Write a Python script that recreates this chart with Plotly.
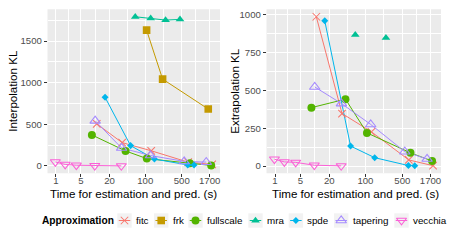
import numpy as np
import plotly.graph_objects as go

# ---------------- data ----------------
methods = ["fitc", "frk", "fullscale", "mra", "spde", "tapering", "vecchia"]

time_fitc = [11, 35.6, 130, 662, 1900]
time_frk = [106, 215, 1600]
time_fullscale = [8.7, 41.5, 107, 712, 1820]
time_mra = [64, 127, 245, 462]
time_spde = [16.3, 52, 150, 650, 858]
time_tapering = [10.2, 34.7, 126, 556, 1465]
time_vecchia = [0.95, 2.0, 3.9, 10, 34.3]

interp_fitc = [505, 280, 182, 45, 18]
interp_frk = [1631, 1043, 683]
interp_fullscale = [372, 180, 88, 32, 5]
interp_mra = [1792, 1772, 1752, 1760]
interp_spde = [824, 244, 82, 12, 10]
interp_tapering = [542, 215, 125, 54, 46]
interp_vecchia = [48, 18, 8, 3, 1]

extrap_fitc = [987, 347, 226, 40, 2]
extrap_frk = [None, None, None]
extrap_fullscale = [386, 442, 219, 87, 33]
extrap_mra = [867, None, 847, None]
extrap_spde = [960, 132, 55, 3, 2]
extrap_tapering = [523, 413, 275, 95, 46]
extrap_vecchia = [45, 27, 24, 5, 1]

x_breaks = [1, 5, 20, 100, 500, 1700]
x_break_labels = ["1", "5", "20", "100", "500", "1700"]
y_breaks_left = [0, 500, 1000, 1500]
y_breaks_right = [0, 250, 500, 750, 1000]

times = {"fitc": time_fitc, "frk": time_frk, "fullscale": time_fullscale, "mra": time_mra,
         "spde": time_spde, "tapering": time_tapering, "vecchia": time_vecchia}
interp = {"fitc": interp_fitc, "frk": interp_frk, "fullscale": interp_fullscale, "mra": interp_mra,
          "spde": interp_spde, "tapering": interp_tapering, "vecchia": interp_vecchia}
extrap = {"fitc": extrap_fitc, "frk": extrap_frk, "fullscale": extrap_fullscale, "mra": extrap_mra,
          "spde": extrap_spde, "tapering": extrap_tapering, "vecchia": extrap_vecchia}

# ---------------- styles ----------------
colors = {"fitc": "#F8766D", "frk": "#C49A00", "fullscale": "#53B400", "mra": "#00C094",
          "spde": "#00B6EB", "tapering": "#A58AFF", "vecchia": "#FB61D7"}
symbols = {"fitc": "x-thin-open", "frk": "square", "fullscale": "circle", "mra": "triangle-up",
           "spde": "diamond", "tapering": "triangle-up-open", "vecchia": "triangle-down-open"}
sizes = {"fitc": 7.5, "frk": 7.6, "fullscale": 8, "mra": 7.6, "spde": 5.4,
         "tapering": 9.2, "vecchia": 8.8}

W, H = 450, 241
FONT = "Liberation Sans, Arial, sans-serif"
LW = 1.0

def marker(m):
    d = dict(symbol=symbols[m], size=sizes[m], color=colors[m])
    if "open" in symbols[m]:
        d["line"] = dict(width=1.05, color=colors[m])
    else:
        d["line"] = dict(width=0)
    return d

fig = go.Figure()

panels = [("x", "y", interp), ("x2", "y2", extrap)]
# lines first, then points (ggplot layering)
for xa, ya, vals in panels:
    for m in methods:
        fig.add_trace(go.Scatter(x=np.array(times[m]) + 1, y=vals[m], mode="lines",
                                 line=dict(color=colors[m], width=LW), connectgaps=False,
                                 xaxis=xa, yaxis=ya, showlegend=False, hoverinfo="skip"))
for xa, ya, vals in panels:
    for m in methods:
        fig.add_trace(go.Scatter(x=np.array(times[m]) + 1, y=vals[m], mode="markers",
                                 marker=marker(m), xaxis=xa, yaxis=ya, showlegend=False,
                                 hoverinfo="skip"))

# ---------------- axes ----------------
def px_x(p):
    return p / W

def px_y(p):
    return 1 - p / H

ydom = [px_y(173.3), px_y(9.3)]
left_dom = [px_x(47.5), px_x(220)]
right_dom = [px_x(266.5), px_x(441)]

def xrange(all_t):
    lo = np.log10(min(all_t) + 1)
    hi = np.log10(max(all_t) + 1)
    d = hi - lo
    return [lo - 0.05 * d, hi + 0.05 * d]

def yrange(vals):
    flat = [v for m in methods for v in vals[m] if v is not None]
    lo, hi = min(flat), max(flat)
    d = hi - lo
    return [lo - 0.05 * d, hi + 0.05 * d]

all_t = [t for m in methods for t in times[m]]
tv = [b + 1 for b in x_breaks]
minor_x = [float(np.sqrt(tv[i] * tv[i + 1])) for i in range(len(tv) - 1)]

tickfont = dict(family=FONT, size=9.6, color="#4D4D4D")

def xaxis_cfg(dom, anchor):
    return dict(domain=dom, anchor=anchor, type="log", range=xrange(all_t),
                tickmode="array", tickvals=tv, ticktext=x_break_labels,
                showgrid=True, gridcolor="white", gridwidth=1.07,
                minor=dict(tickvals=minor_x, showgrid=True, gridcolor="white", gridwidth=0.55, ticks=""),
                ticks="outside", ticklen=2.7, tickwidth=1.0, tickcolor="#333333",
                tickfont=tickfont, ticklabelstandoff=-5, showline=False, zeroline=False,
                automargin=False, fixedrange=True)

def yaxis_cfg(dom, anchor, rng, breaks):
    minor = [(breaks[i] + breaks[i + 1]) / 2 for i in range(len(breaks) - 1)]
    step = breaks[1] - breaks[0]
    minor.append(breaks[-1] + step / 2)
    return dict(domain=dom, anchor=anchor, range=rng, tickmode="array", tickvals=breaks,
                showgrid=True, gridcolor="white", gridwidth=1.07,
                minor=dict(tickvals=minor, showgrid=True, gridcolor="white", gridwidth=0.55, ticks=""),
                ticks="outside", ticklen=2.7, tickwidth=1.0, tickcolor="#333333",
                tickfont=tickfont, showline=False, zeroline=False, automargin=False,
                fixedrange=True)

fig.update_layout(
    xaxis=xaxis_cfg(left_dom, "y"),
    yaxis=yaxis_cfg(ydom, "x", yrange(interp), y_breaks_left),
    xaxis2=xaxis_cfg(right_dom, "y2"),
    yaxis2=yaxis_cfg(ydom, "x2", yrange(extrap), y_breaks_right),
    xaxis3=dict(domain=[0, 1], anchor="y3", range=[0, W], visible=False, fixedrange=True),
    yaxis3=dict(domain=[0, 1], anchor="x3", range=[H, 0], visible=False, fixedrange=True),
    width=W, height=H, margin=dict(l=0, r=0, t=0, b=0, pad=0),
    paper_bgcolor="white", plot_bgcolor="rgba(0,0,0,0)", showlegend=False,
    font=dict(family=FONT, color="black"),
)

shapes = []
for xr, yr in [("x", "y"), ("x2", "y2")]:
    shapes.append(dict(type="rect", xref=xr + " domain", yref=yr + " domain", x0=0, x1=1, y0=0, y1=1,
                       fillcolor="#EBEBEB", line=dict(width=0), layer="below"))

annotations = []
title_font = dict(family=FONT, size=11.6, color="black")
def ann(text, x, y, font, xanchor="center", yanchor="middle", angle=0):
    annotations.append(dict(text=text, x=x, y=y, xref="paper", yref="paper", showarrow=False,
                            xanchor=xanchor, yanchor=yanchor, textangle=angle, font=font,
                            borderpad=0, borderwidth=0))

ann("Time for estimation and pred. (s)", px_x(133.7), px_y(193), title_font)
ann("Time for estimation and pred. (s)", px_x(355), px_y(193), title_font)
ann("Interpolation KL", px_x(12.5), px_y(91.3), title_font, angle=-90)
ann("Extrapolation KL", px_x(234.5), px_y(91.3), title_font, angle=-90)

# ---------------- manual legend (ggplot style) ----------------
leg_y = 220.5
key = 14.4
key_left = [117.3, 154, 188.3, 248.3, 288.7, 334, 394.3]
ann("<b>Approximation</b>", px_x(42), px_y(leg_y), dict(family=FONT, size=10.2, color="black"),
    xanchor="left")
for m, kl in zip(methods, key_left):
    shapes.append(dict(type="rect", xref="paper", yref="paper", x0=px_x(kl), x1=px_x(kl + key),
                       y0=px_y(leg_y + key / 2), y1=px_y(leg_y - key / 2),
                       fillcolor="#F2F2F2", line=dict(width=0), layer="below"))
    shapes.append(dict(type="line", xref="paper", yref="paper", x0=px_x(kl + 0.1 * key),
                       x1=px_x(kl + 0.9 * key), y0=px_y(leg_y), y1=px_y(leg_y),
                       line=dict(color=colors[m], width=LW), layer="above"))
    fig.add_trace(go.Scatter(x=[kl + key / 2], y=[leg_y], mode="markers", marker=marker(m),
                             xaxis="x3", yaxis="y3", showlegend=False, hoverinfo="skip",
                             cliponaxis=False))
    ann(m, px_x(kl + 18.6), px_y(leg_y), dict(family=FONT, size=9.8, color="black"), xanchor="left")

fig.update_layout(shapes=shapes, annotations=annotations)
fig.write_html("out.html", config={"displayModeBar": False},
               post_script="document.body.style.margin='0';document.body.style.padding='0';"
                           "document.body.style.overflow='hidden';")
